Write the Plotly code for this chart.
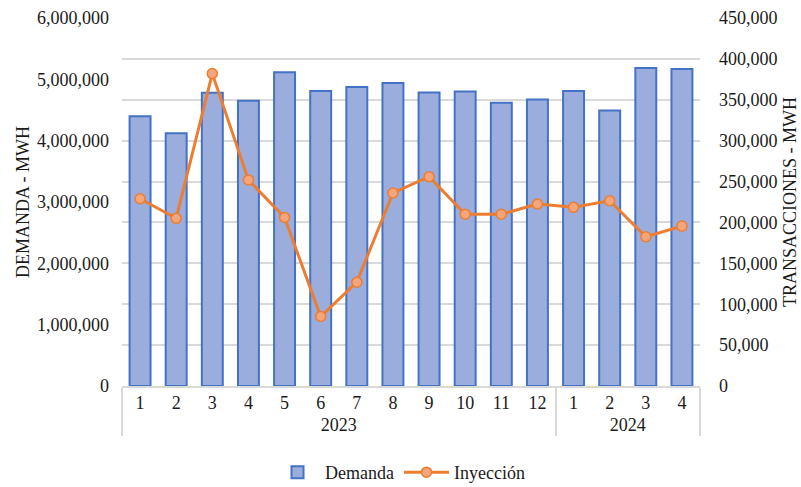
import plotly.graph_objects as go

years = ["2023"] * 12 + ["2024"] * 4
months = [str(m) for m in range(1, 13)] + ["1", "2", "3", "4"]

demanda = [4400000, 4120000, 4780000, 4650000, 5115000, 4810000, 4875000, 4940000,
           4785000, 4800000, 4620000, 4670000, 4810000, 4490000, 5185000, 5170000]
inyeccion = [229000, 205000, 382000, 252000, 206000, 85000, 127000, 236000,
             256000, 210000, 210000, 222500, 218500, 226500, 182500, 195500]

FONT = "Liberation Serif, Times New Roman, serif"
TXT = "#1a1a1a"
FS = 18

fig = go.Figure()
fig.add_trace(go.Bar(
    x=[years, months], y=demanda, name="Demanda",
    marker=dict(color="#9aaddd", line=dict(color="#4472c4", width=2)),
    width=0.58,
))
fig.add_trace(go.Scatter(
    x=[years, months], y=inyeccion, name="Inyección", yaxis="y2",
    mode="lines+markers",
    line=dict(color="#ed7d31", width=3),
    marker=dict(size=10, color="#f4a57c", line=dict(color="#ed7d31", width=1.5)),
))

fig.update_layout(
    width=801, height=487,
    margin=dict(l=122, r=101, t=18, b=101, autoexpand=False),
    paper_bgcolor="white", plot_bgcolor="white",
    font=dict(family=FONT, size=FS, color=TXT),
    showlegend=True,
    legend=dict(orientation="h", x=0.481, xanchor="center",
                y=-0.235, yanchor="middle", itemwidth=45,
                font=dict(family=FONT, size=FS, color=TXT)),
    xaxis=dict(
        type="multicategory", range=[-0.5, 15.5],
        showline=True, linecolor="#d9d9d9", linewidth=1.5,
        showdividers=True, dividercolor="#d9d9d9", dividerwidth=1.5,
        ticks="", automargin=False, tickfont=dict(family=FONT, size=FS, color=TXT),
    ),
    yaxis=dict(
        range=[0, 6000000], dtick=1000000, tickformat=",", showgrid=False,
        showline=False, zeroline=False, ticks="", automargin=False,
        ticklabelstandoff=12,
        title=dict(text="DEMANDA - MWH", font=dict(family=FONT, size=FS, color=TXT), standoff=2),
        tickfont=dict(family=FONT, size=FS, color=TXT),
    ),
    yaxis2=dict(
        range=[0, 450000], dtick=50000, tickformat=",", overlaying="y", side="right",
        showgrid=True, gridcolor="#d9d9d9", gridwidth=1.5, zeroline=False,
        showline=False, ticks="", automargin=False,
        ticklabelstandoff=18,
        title=dict(text="TRANSACCIONES - MWH", font=dict(family=FONT, size=FS, color=TXT), standoff=6),
        tickfont=dict(family=FONT, size=FS, color=TXT),
    ),
)

fig.write_html("out.html", config={"displayModeBar": False},
               post_script="document.body.style.margin='0px';")
